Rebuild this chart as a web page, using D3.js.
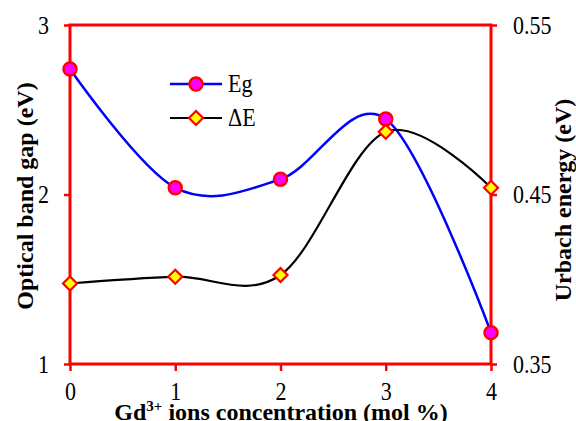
<!DOCTYPE html>
<html>
<head>
<meta charset="utf-8">
<script src="https://cdn.jsdelivr.net/npm/d3@7/dist/d3.min.js"></script>
<style>
  html, body { margin: 0; padding: 0; background: #fff; }
  svg { display: block; }
</style>
</head>
<body>
<svg id="chart" width="576" height="421"></svg>
<script>
// Gd3+ concentration (mol %)
const concentration = [0, 1, 2, 3, 4];
// Optical band gap Eg (eV), left axis
const bandGap = [2.74, 2.04, 2.09, 2.445, 1.185];
// Urbach energy ΔE (eV), right axis
const urbach = [0.3975, 0.4015, 0.4025, 0.487, 0.454];

const xTicks = [0, 1, 2, 3, 4];
const leftTicks = [1, 2, 3];
const rightTicks = [0.35, 0.45, 0.55];

const FONT = "'Liberation Serif', 'Times New Roman', Times, serif";
const svg = d3.select("#chart");
const plotLeft = 70, plotRight = 491, plotTop = 25, plotBottom = 364;
const red = "#ff0000";
const stretch = 1.15;

const x = d3.scaleLinear().domain([0, 4]).range([plotLeft, plotRight]);
const yL = d3.scaleLinear().domain([1, 3]).range([plotBottom, plotTop]);
const yR = d3.scaleLinear().domain([0.35, 0.55]).range([plotBottom, plotTop]);

// frame
svg.append("rect")
  .attr("x", plotLeft).attr("y", plotTop)
  .attr("width", plotRight - plotLeft).attr("height", plotBottom - plotTop)
  .attr("fill", "none").attr("stroke", red).attr("stroke-width", 3);

function styleAxis(g) {
  g.select(".domain").remove();
  g.selectAll(".tick line").attr("stroke", red).attr("stroke-width", 2.5);
  g.selectAll(".tick text")
    .style("font-family", FONT)
    .style("font-size", "22px")
    .attr("fill", "#000");
}

// left axis
const gL = svg.append("g").attr("transform", `translate(${plotLeft},0)`)
  .call(d3.axisLeft(yL).tickValues(leftTicks).tickFormat(d3.format("d")).tickSize(6).tickSizeOuter(0).tickPadding(15));
styleAxis(gL);
gL.selectAll(".tick text").attr("transform", `scale(1,${stretch})`);

// right axis
const gR = svg.append("g").attr("transform", `translate(${plotRight},0)`)
  .call(d3.axisRight(yR).tickValues(rightTicks).tickFormat(d3.format(".2f")).tickSize(6).tickSizeOuter(0).tickPadding(16));
styleAxis(gR);
gR.selectAll(".tick text").attr("transform", `scale(1,${stretch})`);

// bottom axis
const gB = svg.append("g").attr("transform", `translate(0,${plotBottom})`)
  .call(d3.axisBottom(x).tickValues(xTicks).tickFormat(d3.format("d")).tickSize(7).tickSizeOuter(0));
styleAxis(gB);
gB.selectAll(".tick text").attr("y", 31).attr("dy", 0).attr("transform", `scale(1,${stretch})`);

// axis titles
svg.append("text")
  .attr("x", 281).attr("y", 420)
  .attr("text-anchor", "middle")
  .style("font-family", FONT).style("font-size", "24px").style("font-weight", "bold")
  .call(t => {
    t.append("tspan").text("Gd");
    t.append("tspan").style("font-size", "15px").attr("dy", -9).text("3+");
    t.append("tspan").attr("dy", 9).text(" ions concentration (mol %)");
  });

svg.append("text")
  .attr("transform", "translate(33,196) rotate(-90)")
  .attr("text-anchor", "middle")
  .style("font-family", FONT).style("font-size", "24px").style("font-weight", "bold")
  .text("Optical band gap (eV)");

svg.append("text")
  .attr("transform", "translate(571,200) rotate(-90)")
  .attr("text-anchor", "middle")
  .style("font-family", FONT).style("font-size", "24px").style("font-weight", "bold")
  .text("Urbach energy (eV)");

// smoothed series lines
const curve = d3.curveCardinal.tension(0);
const lineL = d3.line().x((d, i) => x(concentration[i])).y(d => yL(d)).curve(curve);
const lineR = d3.line().x((d, i) => x(concentration[i])).y(d => yR(d)).curve(curve);

svg.append("path").attr("d", lineL(bandGap))
  .attr("fill", "none").attr("stroke", "#0000ff").attr("stroke-width", 2.5);
svg.append("path").attr("d", lineR(urbach))
  .attr("fill", "none").attr("stroke", "#000").attr("stroke-width", 2.2);

const diamond = r => `M0,${-r}L${r},0L0,${r}L${-r},0Z`;

// markers
svg.append("g").selectAll("circle").data(bandGap).join("circle")
  .attr("cx", (d, i) => x(concentration[i])).attr("cy", d => yL(d))
  .attr("r", 6.5).attr("fill", "#ff00ff").attr("stroke", red).attr("stroke-width", 2.5);
svg.append("g").selectAll("path").data(urbach).join("path")
  .attr("transform", (d, i) => `translate(${x(concentration[i])},${yR(d)})`)
  .attr("d", diamond(7)).attr("fill", "#ffff00").attr("stroke", red).attr("stroke-width", 2.2);

// legend
const legend = svg.append("g");
const legendRows = [
  { label: "Eg", y: 84, stroke: "#0000ff", marker: "circle" },
  { label: "ΔE", y: 118, stroke: "#000", marker: "diamond" }
];
legendRows.forEach(r => {
  legend.append("line").attr("x1", 170).attr("x2", 222).attr("y1", r.y).attr("y2", r.y)
    .attr("stroke", r.stroke).attr("stroke-width", r.marker === "circle" ? 2.5 : 2.2);
  if (r.marker === "circle") {
    legend.append("circle").attr("cx", 196).attr("cy", r.y).attr("r", 6.5)
      .attr("fill", "#ff00ff").attr("stroke", red).attr("stroke-width", 2.5);
  } else {
    legend.append("path").attr("transform", `translate(196,${r.y})`).attr("d", diamond(7))
      .attr("fill", "#ffff00").attr("stroke", red).attr("stroke-width", 2.2);
  }
  legend.append("text").attr("transform", `translate(228,${r.y + 8}) scale(1,${stretch})`)
    .style("font-family", FONT).style("font-size", "22px").text(r.label);
});
</script>
</body>
</html>
